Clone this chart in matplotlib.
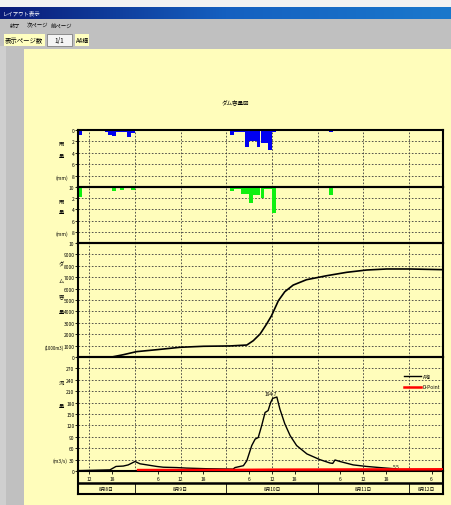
import numpy as np
import matplotlib.pyplot as plt
import matplotlib.patches as mpatches
from matplotlib.colors import LinearSegmentedColormap

plt.rcParams["font.family"] = ["Liberation Sans Narrow", "Noto Sans CJK JP",
                               "DejaVu Sans"]
JP = ["Noto Sans CJK JP", "DejaVu Sans"]

W, H = 451, 506
DPI = 100

# ── DATA (time axis = hours from 8/8 00:00) ─────────────────────────────────
RAIN_A_HOURS = [9, 16, 17, 18, 19, 20, 21, 22, 23, 49, 50, 51, 52, 53, 54, 55,
                56, 57, 58, 59, 60, 75]
RAIN_A_MM = [0.8, 0.4, 0.8, 1.0, 0.4, 0.4, 0.4, 1.2, 0.5, 0.9, 0.3, 0.3, 0.3,
             2.9, 1.9, 1.9, 3.0, 2.3, 2.3, 3.5, 0.3, 0.4]

RAIN_B_HOURS = [9, 16, 17, 18, 19, 20, 21, 22, 23, 49, 50, 51, 52, 53, 54, 55,
                56, 57, 58, 59, 60, 61, 62, 75]
RAIN_B_MM = [1.7, 0.2, 0.2, 0.75, 0.2, 0.5, 0.2, 0.2, 0.5, 0.75, 0.35, 0.35,
             1.2, 1.2, 2.8, 1.5, 1.5, 2.0, 0.35, 0.35, 4.6, 0.2, 0.2, 1.35]

VOL_HOURS = [17.9, 20.9, 24.4, 29.7, 35.8, 42, 49, 53.4, 55.1, 56.9, 58.6,
             59.9, 61.7, 63.4, 65.6, 69.1, 74.4, 79.7, 84.9, 90.2, 96.3, 105]
VOL = [0, 200, 470, 640, 850, 940, 970, 1050, 1430, 2020, 2890, 3620, 4940,
       5730, 6310, 6780, 7130, 7430, 7630, 7720, 7720, 7660]

FLOW_HOURS = [9, 17.4, 19, 20.9, 22.2, 24.0, 25.3, 29.7, 31.4, 35, 37.6, 42.8,
              49.8, 50.3, 52.5, 53.4, 54.7, 55.6, 56.4, 57.3, 58.2, 59.0, 59.7,
              60.2, 61.3, 62.1, 63.4, 64.8, 66.5, 69.2, 72.6, 75.3, 76, 76.6,
              77.9, 81.4, 84.9, 88.4, 92.8]
FLOW = [1, 3, 12, 13, 16, 25, 19, 12, 10, 9, 7.6, 6, 5, 9, 14, 27, 67, 84, 88,
        119, 154, 159, 181, 191, 194.7, 163, 124, 93, 67, 45, 30, 21, 20, 29,
        25, 16, 12, 9, 5.5]

DPOINT_HOURS = [24.8, 50, 60, 80, 105]
DPOINT = [2.5, 2.8, 3.5, 4.0, 4.5]

HOUR_TICKS = [12, 18, 30, 36, 42, 54, 60, 66, 78, 84, 90, 102]
HOUR_LABELS = ["12", "18", "6", "12", "18", "6", "12", "18", "6", "12", "18", "6"]
DAY_BOUNDS = [24, 48, 72, 96]
DAY_CENTERS = [16.5, 36, 60, 84, 100.5]
DAY_LABELS = ["8月8日", "8月9日", "8月10日", "8月11日", "8月12日"]
GRID_HOURS = [12, 24, 36, 48, 60, 72, 84, 96]
X_RANGE = (9, 105)

# ── STYLE ────────────────────────────────────────────────────────────────────
PAGE = "#FFFDBB"
GRAY = "#C0C0C0"
GRID = dict(color="#3a3a3a", linestyle=(0, (2, 2)), linewidth=0.6, zorder=1)
TICK_FS = 3.5
LBL_FS = 3.8


def fx(x):
    return x / W


def fy(y):
    return 1 - y / H


def rect(fig, x0, y0, x1, y1, color, ec="none", lw=0):
    fig.patches.append(mpatches.Rectangle(
        (fx(x0), fy(y1)), (x1 - x0) / W, (y1 - y0) / H,
        transform=fig.transFigure, facecolor=color, edgecolor=ec,
        linewidth=lw, zorder=0))


def panel(fig, top, bottom):
    ax = fig.add_axes([fx(78), fy(bottom), 365 / W, (bottom - top) / H])
    ax.set_facecolor("none")
    ax.set_xlim(*X_RANGE)
    for s in ax.spines.values():
        s.set_linewidth(1.5)
        s.set_color("black")
    ax.tick_params(axis="y", length=2, width=0.6, pad=0.5, labelsize=TICK_FS)
    ax.tick_params(axis="x", bottom=False, labelbottom=False)
    for h in GRID_HOURS:
        ax.axvline(h, **GRID)
    return ax


fig = plt.figure(figsize=(W / DPI, H / DPI), dpi=DPI)
fig.patch.set_facecolor(PAGE)

# ── window chrome ────────────────────────────────────────────────────────────
rect(fig, 0, 0, W, 8, "#F2F2F2")
rect(fig, 0, 20, W, 50, GRAY)
rect(fig, 0, 50, 24, H, GRAY)
rect(fig, 0, 47, 6, H, "#CFCFCF")
rect(fig, 4, 35, 45, 47, "#FFFFC0")
rect(fig, 47, 35, 72, 47, "#F4F4F4", ec="#808080", lw=0.6)
rect(fig, 75, 35, 89, 47, "#FFFFC0")

tbar = fig.add_axes([0, fy(20), 1, 12 / H])
cmap = LinearSegmentedColormap.from_list("tb", ["#0A1A78", "#1560C0", "#1A78CC"])
tbar.imshow(np.linspace(0, 1, 256)[None, :], aspect="auto", cmap=cmap,
            extent=[0, 1, 0, 1])
tbar.axis("off")
fig.text(fx(3), fy(14), "レイアウト表示", color="white", fontsize=3.9,
         ha="left", va="center", family=JP)
for xp, t in [(10, "終了"), (27, "次ページ"), (51, "前ページ")]:
    fig.text(fx(xp), fy(26), t, fontsize=3.9, ha="left", va="center",
             family=JP)
fig.text(fx(5), fy(41), "表示ページ数", fontsize=4.6, ha="left", va="center",
         family=JP)
fig.text(fx(59.5), fy(41), "1/1", fontsize=4.6, ha="center", va="center",
         family=JP)
fig.text(fx(76), fy(41), "A4横", fontsize=4.4, ha="left", va="center",
         family=JP)

fig.text(fx(235.5), fy(102), "ダム容量図", fontsize=4, ha="center",
         va="center", family=JP)

# ── panel 1 : rainfall (blue) ───────────────────────────────────────────────
ax1 = panel(fig, 131, 188)
ax1.bar(RAIN_A_HOURS, RAIN_A_MM, width=1, align="edge", color="#0000F0",
        zorder=2)
ax1.set_ylim(10, 0)
ax1.set_yticks([0, 2, 4, 6, 8, 10])
for v in [2, 4, 6, 8]:
    ax1.axhline(v, **GRID)

# ── panel 2 : rainfall (green) ──────────────────────────────────────────────
ax2 = panel(fig, 188, 244)
ax2.bar(RAIN_B_HOURS, RAIN_B_MM, width=1, align="edge", color="#10F010",
        zorder=2)
ax2.set_ylim(10, 0)
ax2.set_yticks([2, 4, 6, 8, 10])
for v in [2, 4, 6, 8]:
    ax2.axhline(v, **GRID)

# ── panel 3 : dam volume ────────────────────────────────────────────────────
ax3 = panel(fig, 244, 358)
ax3.plot(VOL_HOURS, VOL, color="black", lw=1.2, zorder=3)
ax3.set_ylim(0, 10000)
ax3.set_yticks(np.arange(0, 10000, 1000))
for v in range(1000, 10000, 1000):
    ax3.axhline(v, **GRID)

# ── panel 4 : discharge ─────────────────────────────────────────────────────
ax4 = panel(fig, 358, 472)
ax4.plot(FLOW_HOURS, FLOW, color="black", lw=1.0, zorder=3, label="A地")
ax4.plot(DPOINT_HOURS, DPOINT, color="#FF0000", lw=1.8, zorder=4,
         label="D-Point")
ax4.set_ylim(0, 300)
ax4.set_yticks(np.arange(0, 300, 30))
for v in range(30, 300, 30):
    ax4.axhline(v, **GRID)
ax4.set_xticks(HOUR_TICKS)
ax4.set_xticklabels(HOUR_LABELS)
ax4.tick_params(axis="x", bottom=True, labelbottom=True, length=2, width=0.6,
                pad=1.5, labelsize=TICK_FS)
ipk = int(np.argmax(FLOW))
ax4.text(FLOW_HOURS[ipk] - 1.5, FLOW[ipk] + 2, f"{FLOW[ipk]:.1f}",
         fontsize=TICK_FS, ha="center", va="bottom")
ax4.text(FLOW_HOURS[-1], FLOW[-1] + 1, f"{FLOW[-1]:.1f}",
         fontsize=TICK_FS, ha="center", va="bottom")
ax4.legend(loc="upper right", bbox_to_anchor=(1.0, 0.88), frameon=False,
           fontsize=TICK_FS, handlelength=3.6, handletextpad=0.3,
           labelspacing=1.2, borderaxespad=0.2)

# ── date row ────────────────────────────────────────────────────────────────
ax5 = fig.add_axes([fx(78), fy(495), 365 / W, 23 / H])
ax5.set_facecolor("none")
ax5.set_xlim(*X_RANGE)
ax5.set_ylim(0, 23)
ax5.set_xticks([])
ax5.set_yticks([])
for s in ax5.spines.values():
    s.set_linewidth(1.5)
ax5.spines["top"].set_visible(False)
ax5.axhline(11, color="black", lw=1.8)
ax5.vlines(DAY_BOUNDS, 0, 11, color="black", lw=0.6)
for c, t in zip(DAY_CENTERS, DAY_LABELS):
    ax5.text(c, 5.5, t, fontsize=3.4, ha="center", va="center", family=JP)


# ── y labels (vertical stacked characters) ──────────────────────────────────
def stack(chars, ys, unit, uy, ux=61, ufs=TICK_FS):
    for ch, yy in zip(chars, ys):
        fig.text(fx(61.5), fy(yy), ch, fontsize=LBL_FS, ha="center",
                 va="center", family=JP)
    fig.text(fx(ux), fy(uy), unit, fontsize=ufs, ha="center", va="center")


stack("雨量", [145, 156], "(mm)", 178, ux=62)
stack("雨量", [202, 213], "(mm)", 234, ux=62)
stack("ダム容量", [265, 281, 297, 313], "(1000m3)", 348, ux=54.5, ufs=3.1)
stack("流量", [383, 407], "(m3/s)", 461, ux=60)

fig.savefig("out.png", dpi=DPI, facecolor=PAGE)
